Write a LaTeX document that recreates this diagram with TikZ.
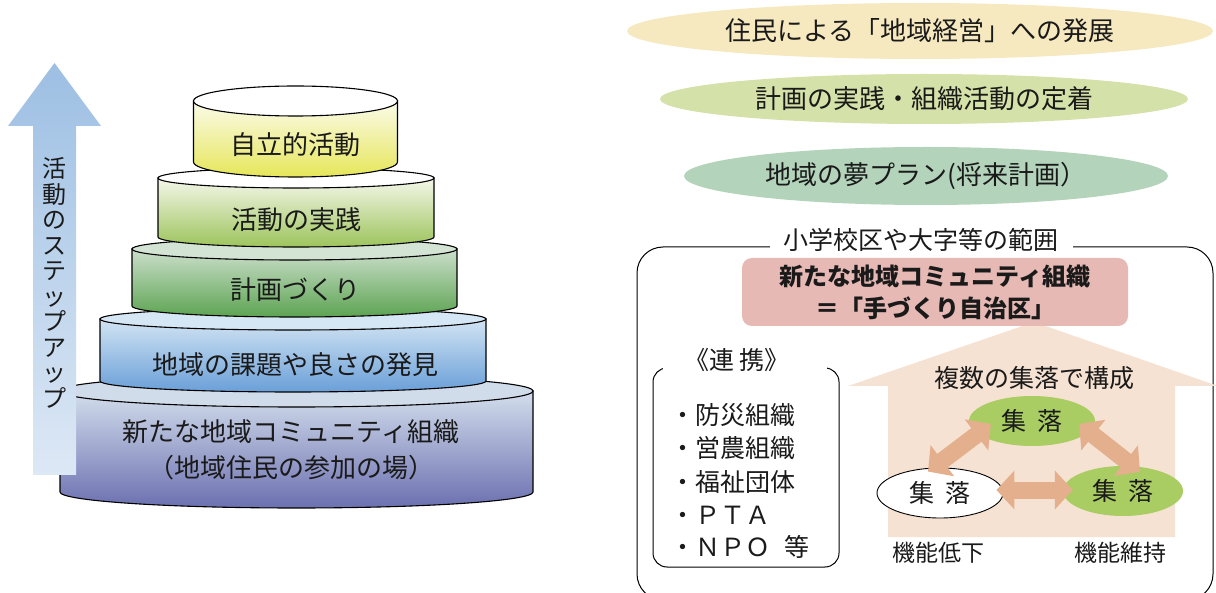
\documentclass[tikz,border=0pt]{standalone}
\usepackage{fontspec}
\setmainfont{Noto Sans CJK JP}
\usetikzlibrary{shapes.geometric,arrows.meta}
\definecolor{ellA}{HTML}{F6E8BF}
\definecolor{ellB}{HTML}{D4E1A8}
\definecolor{ellC}{HTML}{B3D3BB}
\definecolor{pinkc}{HTML}{E6B9B4}
\definecolor{peach}{HTML}{F6E2D2}
\definecolor{arrc}{HTML}{E4AF8C}
\definecolor{greenc}{HTML}{A9CD62}
\definecolor{txt}{HTML}{1A1A1A}
\definecolor{aTop}{HTML}{9DBFE3}
\definecolor{aBot}{HTML}{DDE8F5}
\definecolor{cAt}{HTML}{FFFFFF}\definecolor{cAs}{HTML}{FBFBEA}\definecolor{cAb}{HTML}{E6E65A}
\definecolor{cBt}{HTML}{FFFFFF}\definecolor{cBs}{HTML}{F4F7EA}\definecolor{cBb}{HTML}{9DC45C}
\definecolor{cCt}{HTML}{D3E3D4}\definecolor{cCs}{HTML}{CCDFCC}\definecolor{cCb}{HTML}{5DA452}
\definecolor{cDt}{HTML}{D5E6F4}\definecolor{cDs}{HTML}{D2E4F3}\definecolor{cDb}{HTML}{6A9FD8}
\definecolor{cEt}{HTML}{D1DCEA}\definecolor{cEs}{HTML}{D3DEEC}\definecolor{cEb}{HTML}{6B70B0}
\newcommand\drawcyl[8]{%
  \shade[top color=#7, bottom color=#8, draw=black, line width=1.1pt]
    (#1-#4,#2) -- (#1-#4,#3) arc[start angle=180, end angle=0, x radius=#4, y radius=#5] -- (#1+#4,#2) -- cycle;
  \filldraw[fill=#6, draw=black, line width=1.1pt] (#1,#2) ellipse[x radius=#4, y radius=#5];
}
\begin{document}
\begin{tikzpicture}[x=1pt,y=-1pt,
  lay/.style={text=txt, align=center, font=\fontsize{26}{36}\selectfont},
  oval/.style={ellipse, inner sep=0pt, text=txt, font=\fontsize{26}{26}\selectfont},
  item/.style={anchor=west, text=txt, font=\fontsize{25}{25}\selectfont, inner sep=0pt},
  dbl/.style={draw=arrc, line width=17pt, {Triangle[length=18pt,width=38pt]}-{Triangle[length=18pt,width=38pt]}},
  settle/.style={ellipse, inner sep=0pt, minimum width=126pt, minimum height=50pt, text=txt, font=\fontsize{25}{25}\selectfont}
]
\useasboundingbox (0,0) rectangle (1216,593);
\clip (0,0) rectangle (1216,593);

% ---- stacked cylinders ----
\drawcyl{296.5}{391}{492}{236.5}{16}{cEt}{cEs}{cEb}
\drawcyl{293}{319}{381}{193}{11}{cDt}{cDs}{cDb}
\drawcyl{294.5}{249}{306}{162.5}{11}{cCt}{cCs}{cCb}
\drawcyl{296}{178}{237}{138}{10}{cBt}{cBs}{cBb}
\drawcyl{295.5}{101}{162}{102}{15}{cAt}{cAs}{cAb}

\node[lay] (l1) at (295,145) {自立的活動};
\node[lay] (l2) at (296,220) {活動の実践};
\node[lay] (l3) at (295,290) {計画づくり};
\node[lay] (l4) at (295,365) {地域の課題や良さの発見};
\node[lay] (l5) at (291,450) {新たな地域コミュニティ組織\\（地域住民の参加の場）};

% ---- step-up arrow ----
\shade[top color=aTop, bottom color=aBot]
  (33,475) -- (33,126) -- (8,126) -- (54.5,63) -- (101,126) -- (76,126) -- (76,475) -- cycle;
\node[text=txt, align=center, font=\fontsize{24}{25.5}\selectfont] (vt) at (54.5,283)
  {活\\動\\の\\ス\\テ\\ッ\\プ\\ア\\ッ\\プ};

% ---- right ovals ----
\node[oval, fill=ellA, minimum width=586pt, minimum height=56pt] (e1) at (920,31) {住民による「地域経営」への発展};
\node[oval, fill=ellB, minimum width=528pt, minimum height=50pt] (e2) at (924,99) {計画の実践・組織活動の定着};
\node[oval, fill=ellC, minimum width=484pt, minimum height=58pt] (e3) at (926,176) {地域の夢プラン(将来計画）};

% ---- range box ----
\draw[line width=1pt, rounded corners=26pt] (637,247) rectangle (1213,600);
\node[fill=white, inner xsep=14pt, inner ysep=2pt, text=txt, font=\fontsize{25}{25}\selectfont] (rng) at (921,240) {小学校区や大字等の範囲};

% house
\fill[peach] (848,386) -- (1034,322) -- (1218,386) -- (1175,386) -- (1175,537) -- (888,537) -- (888,386) -- cycle;

\node[fill=pinkc, rounded corners=10pt, minimum width=386pt, minimum height=68pt, align=center, text=txt,
  font=\bfseries\fontsize{24}{32}\selectfont] (pink) at (935,292) {新たな地域コミュニティ組織\\＝「手づくり自治区」};

\node[text=txt, font=\fontsize{25}{25}\selectfont, inner sep=0pt] (fk) at (1034,378) {複数の集落で構成};

\node[settle, fill=greenc] (sT) at (1032,421) {集\hspace{11pt}落};
\node[settle, fill=white, draw=black, line width=0.9pt] (sL) at (940,493) {集\hspace{11pt}落};
\node[settle, fill=greenc, minimum width=120pt] (sR) at (1123,491) {集\hspace{11pt}落};

\draw[dbl] ([xshift=-7pt,yshift=3pt]sL.east) -- ([xshift=10pt,yshift=1pt]sR.west);
\draw[dbl] ([xshift=-12pt,yshift=-4pt]sL.north) -- ([xshift=22pt,yshift=-3pt]sT.west);
\draw[dbl] ([xshift=-16pt,yshift=-3pt]sT.east) -- ([xshift=17pt,yshift=-6pt]sR.north);

\node[text=txt, font=\fontsize{23}{23}\selectfont] (low) at (938,553) {機能低下};
\node[text=txt, font=\fontsize{23}{23}\selectfont] (keep) at (1120,553) {機能維持};

% ---- renkei box ----
\draw[line width=1pt, rounded corners=14pt] (653,368) rectangle (839,567);
\fill[white] (663,352) rectangle (827,376);
\node[text=txt, font=\fontsize{25}{25}\selectfont] (rk) at (737,360) {《連\hspace{5pt}携》};
\node[item] (i1) at (670,415) {・防災組織};
\node[item] (i2) at (670,448) {・営農組織};
\node[item] (i3) at (670,482) {・福祉団体};
\node[item] (i4) at (670,515) {・ＰＴＡ};
\node[item] (i5) at (670,547) {・ＮＰＯ\hspace{14pt}等};
\end{tikzpicture}
\end{document}
